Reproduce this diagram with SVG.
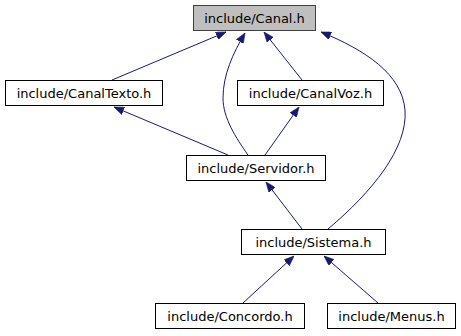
<svg xmlns="http://www.w3.org/2000/svg" width="461" height="336" viewBox="0 0 461 336">
  <style>
    .node rect { fill: #ffffff; stroke: #000000; stroke-width: 1; }
    .node.root rect { fill: #bfbfbf; stroke: #404040; }
    .node text { font-family: "DejaVu Sans", sans-serif; font-size: 13px; fill: #000000; text-anchor: middle; }
    .edges path { fill: none; stroke: #191970; stroke-width: 1; marker-end: url(#head); }
  </style>
  <defs>
    <marker id="head" markerUnits="userSpaceOnUse" markerWidth="10" markerHeight="8" viewBox="0 0 10 8" refX="10" refY="4" orient="auto">
      <path d="M0,0 L10,4 L0,8 Z" fill="#191970" stroke="#191970" stroke-width="0.6"/>
    </marker>
  </defs>
  <rect width="461" height="336" fill="#ffffff"/>

  <g id="edges" class="edges">
    <!-- CanalTexto -> Canal -->
    <path d="M112,80 L226,32"/>
    <!-- Servidor -> Canal (curve to the left) -->
    <path d="M248,155 C236,138 223,118 223,98 C223,75 233,53 245,33"/>
    <!-- CanalVoz -> Canal -->
    <path d="M302,80 L264,32"/>
    <!-- Sistema -> Canal (curve to the right) -->
    <path d="M328,229 C372,192 408,148 405,110 C402,74 365,50 321,32"/>
    <!-- Servidor -> CanalTexto -->
    <path d="M228,155 L114,107"/>
    <!-- Servidor -> CanalVoz -->
    <path d="M265,155 L299,107"/>
    <!-- Sistema -> Servidor -->
    <path d="M302,229 L266,182"/>
    <!-- Concordo -> Sistema -->
    <path d="M243,303 L294,256"/>
    <!-- Menus -> Sistema -->
    <path d="M378,303 L324,256"/>
  </g>

  <g id="canal" class="node root">
    <rect x="193.5" y="5.5" width="122" height="25"/>
    <text x="254.5" y="22.5">include/Canal.h</text>
  </g>
  <g id="canaltexto" class="node">
    <rect x="5.5" y="80.5" width="157" height="25"/>
    <text x="84" y="97.5">include/CanalTexto.h</text>
  </g>
  <g id="canalvoz" class="node">
    <rect x="237.5" y="80.5" width="146" height="25"/>
    <text x="310.5" y="97.5">include/CanalVoz.h</text>
  </g>
  <g id="servidor" class="node">
    <rect x="186.5" y="155.5" width="139" height="25"/>
    <text x="256" y="172.5">include/Servidor.h</text>
  </g>
  <g id="sistema" class="node">
    <rect x="241.5" y="229.5" width="144" height="25"/>
    <text x="313.5" y="246.5">include/Sistema.h</text>
  </g>
  <g id="concordo" class="node">
    <rect x="155.5" y="303.5" width="149" height="25"/>
    <text x="230" y="320.5">include/Concordo.h</text>
  </g>
  <g id="menus" class="node">
    <rect x="327.5" y="303.5" width="128" height="25"/>
    <text x="391.5" y="320.5">include/Menus.h</text>
  </g>
</svg>
